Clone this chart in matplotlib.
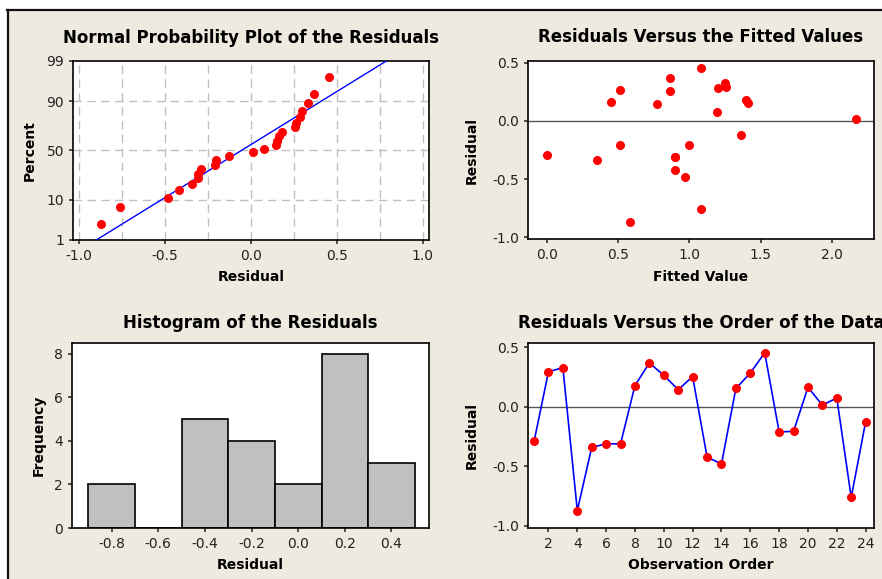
import matplotlib
matplotlib.use("Agg")
import matplotlib.pyplot as plt
from matplotlib.lines import Line2D
from matplotlib.patches import Rectangle
import numpy as np
from statistics import NormalDist

# residuals in observation order
observation = np.arange(1, 25)
residual = [-0.29, 0.295, 0.33, -0.87, -0.34, -0.31, -0.31, 0.18, 0.37, 0.265, 0.145, 0.255,
            -0.42, -0.48, 0.155, 0.285, 0.455, -0.21, -0.205, 0.165, 0.015, 0.075, -0.76, -0.125]
fitted = [0.00, 1.26, 1.25, 0.58, 0.35, 0.90, 0.90, 1.40, 0.86, 0.51, 0.77, 0.86,
          0.90, 0.97, 1.41, 1.20, 1.08, 1.00, 0.51, 0.45, 2.17, 1.19, 1.08, 1.36]
hist_bins = [-0.9, -0.7, -0.5, -0.3, -0.1, 0.1, 0.3, 0.5]
pct_ticks = [1, 10, 50, 90, 99]

BG = '#EEEAE0'
plt.rcParams['font.family'] = 'DejaVu Sans'
plt.rcParams['font.size'] = 10
plt.rcParams['axes.unicode_minus'] = False
plt.rcParams['axes.linewidth'] = 1.2
plt.rcParams['xtick.major.size'] = 3
plt.rcParams['ytick.major.size'] = 3
plt.rcParams['xtick.major.width'] = 1.1
plt.rcParams['ytick.major.width'] = 1.1

nd = NormalDist()
W, H = 882, 579
fig = plt.figure(figsize=(W/100, H/100), dpi=100, facecolor=BG)

# white strips + black frame lines at top and left
fig.add_artist(Rectangle((0, 1-9/H), 1, 9/H, color='white', transform=fig.transFigure, zorder=0))
fig.add_artist(Rectangle((0, 0), 7/W, 1, color='white', transform=fig.transFigure, zorder=0))
fig.add_artist(Line2D([7/W, 1], [1-9.5/H, 1-9.5/H], color='#111111', lw=1.6, transform=fig.transFigure))
fig.add_artist(Line2D([7.5/W, 7.5/W], [0, 1-9.5/H], color='#111111', lw=1.6, transform=fig.transFigure))


def box(l, t, r, b):
    return [l/W, 1-b/H, (r-l)/W, (b-t)/H]


ax1 = fig.add_axes(box(73, 61, 429, 240))
ax2 = fig.add_axes(box(528, 61, 874, 239))
ax3 = fig.add_axes(box(72, 343, 429, 528))
ax4 = fig.add_axes(box(528, 343, 874, 528))

title_kw = dict(fontsize=12, fontweight='bold')
label_kw = dict(fontsize=10, fontweight='bold')

# normal probability plot
srt = np.sort(residual)
n = len(srt)
pp = [(i - 0.3) / (n + 0.4) for i in range(1, n + 1)]
zz = [nd.inv_cdf(p) for p in pp]
mu = np.mean(residual)
sd = np.std(residual, ddof=1)
zl = np.array([nd.inv_cdf(0.01), nd.inv_cdf(0.99)])
ax1.plot(mu + sd * zl, zl, color='blue', lw=1.0, zorder=3)
ax1.plot(srt, zz, 'o', color='red', ms=6.5, mec='none', zorder=4)
ax1.set_xlim(-1.035, 1.037)
ax1.set_ylim(zl[0], zl[1])
ax1.set_yticks([nd.inv_cdf(p/100) for p in pct_ticks])
ax1.set_yticklabels([str(p) for p in pct_ticks])
ax1.set_xticks([-1.0, -0.5, 0.0, 0.5, 1.0])
for gx in np.arange(-1.0, 1.01, 0.25):
    ax1.axvline(gx, color='#C0C0C0', lw=1.0, ls=(0, (6, 4)), zorder=1)
for gp in [10, 50, 90]:
    ax1.axhline(nd.inv_cdf(gp/100), color='#C0C0C0', lw=1.0, ls=(0, (6, 4)), zorder=1)
ax1.set_title('Normal Probability Plot of the Residuals', pad=13, **title_kw)
ax1.set_xlabel('Residual', labelpad=5, **label_kw)
ax1.set_ylabel('Percent', labelpad=7, **label_kw)

# residuals vs fitted
ax2.axhline(0, color='#555555', lw=1.0, zorder=1)
ax2.plot(fitted, residual, 'o', color='red', ms=6.5, mec='none', zorder=3)
ax2.set_xlim(-0.134, 2.296)
ax2.set_ylim(-1.017, 0.517)
ax2.set_xticks([0.0, 0.5, 1.0, 1.5, 2.0])
ax2.set_yticks([-1.0, -0.5, 0.0, 0.5])
ax2.set_title('Residuals Versus the Fitted Values', pad=14, **title_kw)
ax2.set_xlabel('Fitted Value', labelpad=6, **label_kw)
ax2.set_ylabel('Residual', labelpad=9.5, **label_kw)

# histogram
ax3.hist(residual, bins=hist_bins, color='#C0C0C0', edgecolor='black', linewidth=1.2)
ax3.set_xlim(-0.970, 0.561)
ax3.set_ylim(0, 8.5)
ax3.set_xticks([-0.8, -0.6, -0.4, -0.2, 0.0, 0.2, 0.4])
ax3.set_yticks([0, 2, 4, 6, 8])
ax3.set_title('Histogram of the Residuals', pad=11, **title_kw)
ax3.set_xlabel('Residual', labelpad=5, **label_kw)
ax3.set_ylabel('Frequency', labelpad=6, **label_kw)

# residuals vs order
ax4.axhline(0, color='#555555', lw=1.0, zorder=1)
ax4.plot(observation, residual, '-', color='blue', lw=1.2, zorder=2)
ax4.plot(observation, residual, 'o', color='red', ms=6.5, mec='none', zorder=3)
ax4.set_xlim(0.58, 24.58)
ax4.set_ylim(-1.017, 0.537)
ax4.set_xticks(range(2, 25, 2))
ax4.set_yticks([-1.0, -0.5, 0.0, 0.5])
ax4.set_title('Residuals Versus the Order of the Data', pad=11, **title_kw)
ax4.set_xlabel('Observation Order', labelpad=5, **label_kw)
ax4.set_ylabel('Residual', labelpad=9.5, **label_kw)

for ax in (ax1, ax2, ax3, ax4):
    ax.tick_params(colors='#222222', labelcolor='#222222')

fig.savefig('out.png', dpi=100, facecolor=BG)
